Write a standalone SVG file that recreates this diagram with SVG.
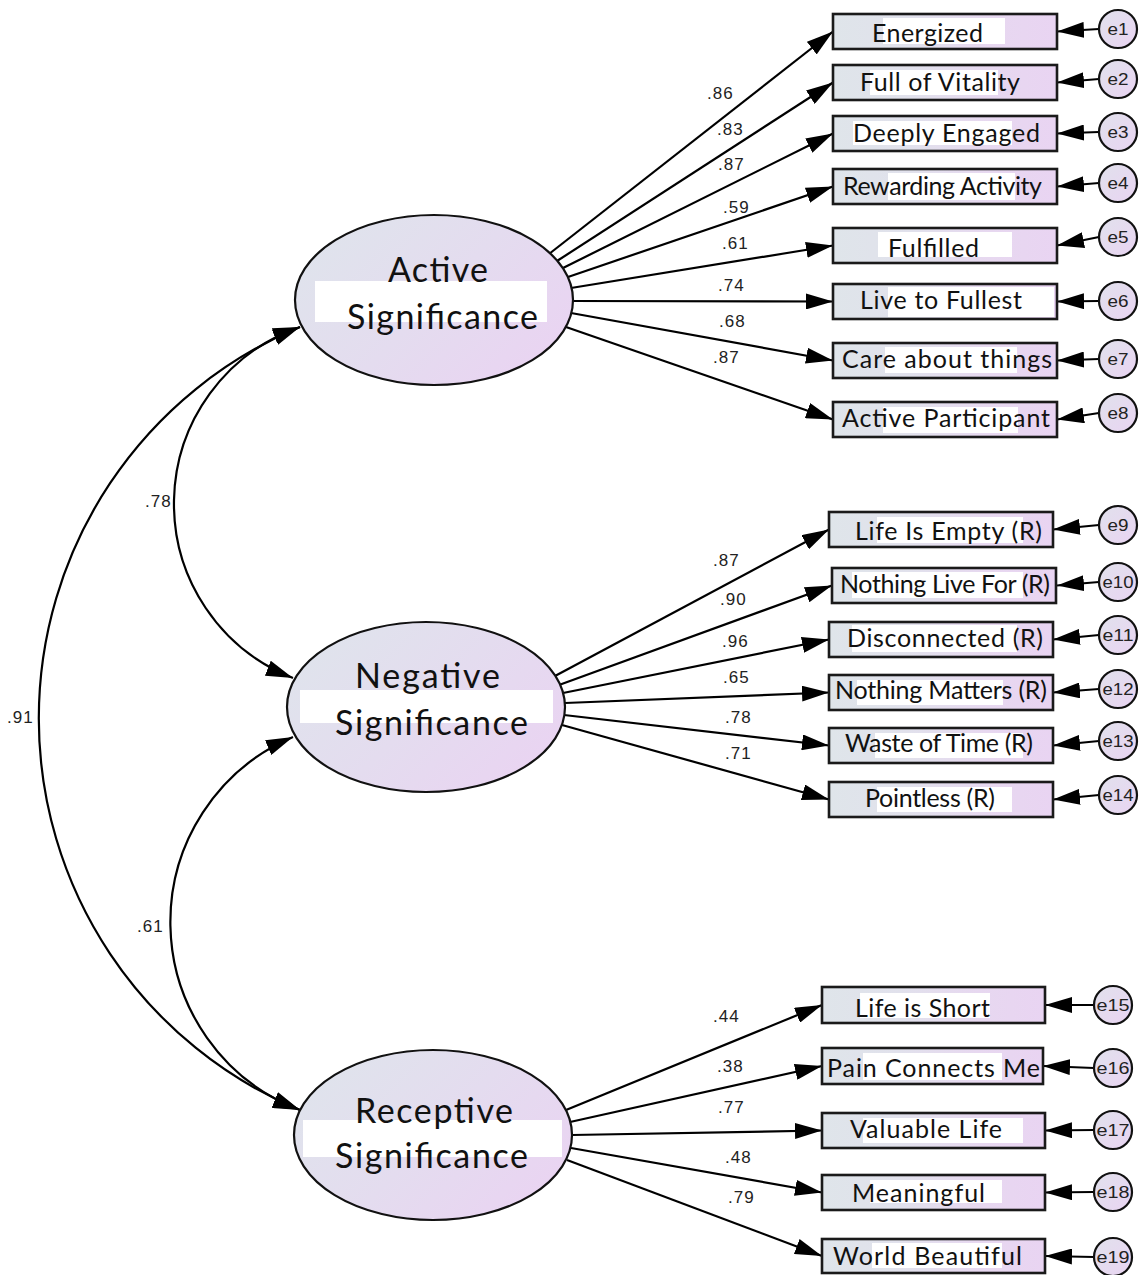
<svg xmlns="http://www.w3.org/2000/svg" width="1147" height="1275" viewBox="0 0 1147 1275">
<defs>
<linearGradient id="gBox" x1="0" y1="0" x2="1" y2="0">
<stop offset="0" stop-color="#dfe5ea"/>
<stop offset="0.35" stop-color="#e1e1ec"/>
<stop offset="0.7" stop-color="#e7d8f0"/>
<stop offset="1" stop-color="#e9d4f2"/>
</linearGradient>
<linearGradient id="gEll" x1="0" y1="0.2" x2="1" y2="0.8">
<stop offset="0" stop-color="#dfe4ec"/>
<stop offset="0.5" stop-color="#e4dcef"/>
<stop offset="1" stop-color="#ead3f2"/>
</linearGradient>
<linearGradient id="gErr" x1="0" y1="0" x2="1" y2="1">
<stop offset="0" stop-color="#e1e1ec"/>
<stop offset="1" stop-color="#e9d4f2"/>
</linearGradient>
<marker id="ah" markerUnits="userSpaceOnUse" markerWidth="27" markerHeight="16" refX="27" refY="8" orient="auto-start-reverse">
<path d="M0,0 L27,8 L0,16 Z" fill="#000"/>
</marker>
</defs>
<style>
.box{fill:url(#gBox);stroke:#1a1a1a;stroke-width:2.6}
.wb{fill:#fff}
.lbl{font-family:Lato,"Open Sans","Liberation Sans",sans-serif;font-size:25px;fill:#111}
.lat{fill:url(#gEll);stroke:#111;stroke-width:2.2}
.ltxt{font-family:Lato,"Open Sans","Liberation Sans",sans-serif;font-size:34px;fill:#111}
.err{fill:url(#gErr);stroke:#111;stroke-width:2.2}
.etxt{font-family:"Liberation Sans",Arial,sans-serif;font-size:16px;fill:#222;text-anchor:middle}
.coef{font-family:"Liberation Sans",Arial,sans-serif;font-size:17px;letter-spacing:1px;fill:#222}
.p{stroke:#000;stroke-width:2.2;fill:none;marker-end:url(#ah)}
.cov{stroke:#000;stroke-width:2.2;fill:none;marker-start:url(#ah);marker-end:url(#ah)}
</style>
<rect width="1147" height="1275" fill="#fff"/>

<g id="connectors">
<path class="cov" d="M300,327 A187,187 0 0 0 293,678"/>
<path class="cov" d="M293,737 A201,201 0 0 0 300,1110"/>
<path class="cov" d="M300,327 A424,424 0 0 0 300,1110"/>
<line class="p" x1="549" y1="254" x2="833" y2="31.5"/>
<line class="p" x1="557" y1="261" x2="833" y2="82.5"/>
<line class="p" x1="563" y1="268" x2="833" y2="133.5"/>
<line class="p" x1="568" y1="277" x2="833" y2="186.5"/>
<line class="p" x1="571" y1="288" x2="833" y2="245.5"/>
<line class="p" x1="573" y1="301" x2="833" y2="301.5"/>
<line class="p" x1="571" y1="313" x2="833" y2="360.5"/>
<line class="p" x1="566" y1="327" x2="833" y2="419.5"/>
<line class="p" x1="555" y1="676" x2="829" y2="529.5"/>
<line class="p" x1="559" y1="685" x2="832" y2="585.5"/>
<line class="p" x1="563" y1="693" x2="829" y2="639.5"/>
<line class="p" x1="565" y1="703" x2="829" y2="692.5"/>
<line class="p" x1="564" y1="715" x2="829" y2="745.5"/>
<line class="p" x1="562" y1="725" x2="829" y2="799.5"/>
<line class="p" x1="566" y1="1110" x2="822" y2="1005"/>
<line class="p" x1="570" y1="1122" x2="822" y2="1066"/>
<line class="p" x1="572" y1="1135" x2="822" y2="1130.5"/>
<line class="p" x1="571" y1="1148" x2="822" y2="1192.5"/>
<line class="p" x1="567" y1="1160" x2="822" y2="1256"/>
<line class="p" x1="1099" y1="29" x2="1057" y2="31.5"/>
<line class="p" x1="1099" y1="79" x2="1057" y2="82.5"/>
<line class="p" x1="1099" y1="132" x2="1057" y2="133.5"/>
<line class="p" x1="1099" y1="183" x2="1057" y2="186.5"/>
<line class="p" x1="1099" y1="237" x2="1057" y2="245.5"/>
<line class="p" x1="1099" y1="301" x2="1057" y2="301.5"/>
<line class="p" x1="1099" y1="359" x2="1057" y2="360.5"/>
<line class="p" x1="1099" y1="413" x2="1057" y2="419.5"/>
<line class="p" x1="1099" y1="525" x2="1053" y2="529.5"/>
<line class="p" x1="1099" y1="582" x2="1057" y2="585.5"/>
<line class="p" x1="1099" y1="635" x2="1053" y2="639.5"/>
<line class="p" x1="1099" y1="689" x2="1053" y2="692.5"/>
<line class="p" x1="1099" y1="741" x2="1053" y2="745.5"/>
<line class="p" x1="1099" y1="795" x2="1053" y2="799.5"/>
<line class="p" x1="1094" y1="1005" x2="1045" y2="1005"/>
<line class="p" x1="1094" y1="1068" x2="1043" y2="1066"/>
<line class="p" x1="1094" y1="1130" x2="1045" y2="1130.5"/>
<line class="p" x1="1094" y1="1192" x2="1045" y2="1192.5"/>
<line class="p" x1="1094" y1="1257" x2="1045" y2="1256"/>
</g>

<g id="coefficients">
<text class="coef" x="707" y="99">.86</text>
<text class="coef" x="717" y="135">.83</text>
<text class="coef" x="718" y="170">.87</text>
<text class="coef" x="723" y="213">.59</text>
<text class="coef" x="722" y="249">.61</text>
<text class="coef" x="718" y="291">.74</text>
<text class="coef" x="719" y="327">.68</text>
<text class="coef" x="713" y="363">.87</text>
<text class="coef" x="713" y="566">.87</text>
<text class="coef" x="720" y="605">.90</text>
<text class="coef" x="722" y="647">.96</text>
<text class="coef" x="723" y="683">.65</text>
<text class="coef" x="725" y="723">.78</text>
<text class="coef" x="725" y="759">.71</text>
<text class="coef" x="713" y="1022">.44</text>
<text class="coef" x="717" y="1072">.38</text>
<text class="coef" x="718" y="1113">.77</text>
<text class="coef" x="725" y="1163">.48</text>
<text class="coef" x="728" y="1203">.79</text>
<text class="coef" x="145" y="507">.78</text>
<text class="coef" x="7" y="723">.91</text>
<text class="coef" x="137" y="932">.61</text>
</g>

<g id="active">
<ellipse class="lat" cx="434" cy="300" rx="139" ry="85"/>
<rect class="wb" x="315" y="281" width="232" height="41"/>
<text class="ltxt" x="388" y="282" textLength="100" lengthAdjust="spacing">Active</text>
<text class="ltxt" x="347" y="329" textLength="191" lengthAdjust="spacing">Significance</text>
</g>
<g id="negative">
<ellipse class="lat" cx="426" cy="707" rx="139" ry="85"/>
<rect class="wb" x="300" y="690" width="253" height="33"/>
<text class="ltxt" x="355" y="688" textLength="145" lengthAdjust="spacing">Negative</text>
<text class="ltxt" x="335" y="735" textLength="193" lengthAdjust="spacing">Significance</text>
</g>
<g id="receptive">
<ellipse class="lat" cx="433" cy="1135" rx="139" ry="85"/>
<rect class="wb" x="303" y="1120" width="259" height="37"/>
<text class="ltxt" x="355" y="1123" textLength="158" lengthAdjust="spacing">Receptive</text>
<text class="ltxt" x="335" y="1168" textLength="193" lengthAdjust="spacing">Significance</text>
</g>

<g id="v1"><rect class="box" x="833" y="14" width="224" height="35"/><rect class="wb" x="883" y="18" width="122" height="26"/><text class="lbl" x="872" y="42" textLength="111" lengthAdjust="spacing">Energized</text></g>
<g id="v2"><rect class="box" x="833" y="65" width="224" height="35"/><rect class="wb" x="870" y="70" width="128" height="25"/><text class="lbl" x="860" y="91" textLength="160" lengthAdjust="spacing">Full of Vitality</text></g>
<g id="v3"><rect class="box" x="833" y="116" width="224" height="35"/><rect class="wb" x="853" y="121" width="159" height="24"/><text class="lbl" x="853" y="142" textLength="187" lengthAdjust="spacing">Deeply Engaged</text></g>
<g id="v4"><rect class="box" x="833" y="169" width="224" height="35"/><rect class="wb" x="888" y="173" width="127" height="27"/><text class="lbl" x="843" y="195" textLength="199" lengthAdjust="spacing">Rewarding Activity</text></g>
<g id="v5"><rect class="box" x="833" y="228" width="224" height="35"/><rect class="wb" x="878" y="232" width="134" height="25"/><text class="lbl" x="888" y="257" textLength="91" lengthAdjust="spacing">Fulfilled</text></g>
<g id="v6"><rect class="box" x="833" y="284" width="224" height="35"/><rect class="wb" x="888" y="287" width="166" height="30"/><text class="lbl" x="860" y="309" textLength="162" lengthAdjust="spacing">Live to Fullest</text></g>
<g id="v7"><rect class="box" x="833" y="343" width="224" height="35"/><rect class="wb" x="885" y="347" width="132" height="26"/><text class="lbl" x="842" y="368" textLength="210" lengthAdjust="spacing">Care about things</text></g>
<g id="v8"><rect class="box" x="833" y="402" width="224" height="35"/><rect class="wb" x="883" y="407" width="135" height="26"/><text class="lbl" x="842" y="427" textLength="208" lengthAdjust="spacing">Active Participant</text></g>

<g id="v9"><rect class="box" x="829" y="512" width="224" height="35"/><rect class="wb" x="877" y="517" width="146" height="26"/><text class="lbl" x="855" y="540" textLength="187" lengthAdjust="spacing">Life Is Empty (R)</text></g>
<g id="v10"><rect class="box" x="832" y="568" width="224" height="35"/><rect class="wb" x="852" y="572" width="171" height="26"/><text class="lbl" x="840" y="593" textLength="210" lengthAdjust="spacing">Nothing Live For (R)</text></g>
<g id="v11"><rect class="box" x="829" y="622" width="224" height="35"/><rect class="wb" x="852" y="625" width="165" height="27"/><text class="lbl" x="847" y="647" textLength="196" lengthAdjust="spacing">Disconnected (R)</text></g>
<g id="v12"><rect class="box" x="829" y="675" width="224" height="35"/><rect class="wb" x="857" y="680" width="146" height="25"/><text class="lbl" x="835" y="699" textLength="212" lengthAdjust="spacing">Nothing Matters (R)</text></g>
<g id="v13"><rect class="box" x="829" y="728" width="224" height="35"/><rect class="wb" x="875" y="733" width="148" height="25"/><text class="lbl" x="845" y="752" textLength="188" lengthAdjust="spacing">Waste of Time (R)</text></g>
<g id="v14"><rect class="box" x="829" y="782" width="224" height="35"/><rect class="wb" x="877" y="787" width="135" height="25"/><text class="lbl" x="865" y="807" textLength="130" lengthAdjust="spacing">Pointless (R)</text></g>

<g id="v15"><rect class="box" x="822" y="987" width="223" height="36"/><rect class="wb" x="860" y="993" width="130" height="25"/><text class="lbl" x="855" y="1017" textLength="135" lengthAdjust="spacing">Life is Short</text></g>
<g id="v16"><rect class="box" x="822" y="1048" width="221" height="36"/><rect class="wb" x="863" y="1053" width="139" height="27"/><text class="lbl" x="827" y="1077" textLength="213" lengthAdjust="spacing">Pain Connects Me</text></g>
<g id="v17"><rect class="box" x="822" y="1113" width="223" height="35"/><rect class="wb" x="863" y="1118" width="160" height="25"/><text class="lbl" x="850" y="1138" textLength="152" lengthAdjust="spacing">Valuable Life</text></g>
<g id="v18"><rect class="box" x="822" y="1175" width="223" height="35"/><rect class="wb" x="870" y="1180" width="132" height="23"/><text class="lbl" x="852" y="1202" textLength="133" lengthAdjust="spacing">Meaningful</text></g>
<g id="v19"><rect class="box" x="822" y="1239" width="223" height="34"/><rect class="wb" x="872" y="1243" width="130" height="25"/><text class="lbl" x="833" y="1265" textLength="189" lengthAdjust="spacing">World Beautiful</text></g>

<g id="e1"><circle class="err" cx="1118" cy="29" r="19"/><text class="etxt" x="1118" y="35" textLength="21" lengthAdjust="spacingAndGlyphs">e1</text></g>
<g id="e2"><circle class="err" cx="1118" cy="79" r="19"/><text class="etxt" x="1118" y="85" textLength="21" lengthAdjust="spacingAndGlyphs">e2</text></g>
<g id="e3"><circle class="err" cx="1118" cy="132" r="19"/><text class="etxt" x="1118" y="138" textLength="21" lengthAdjust="spacingAndGlyphs">e3</text></g>
<g id="e4"><circle class="err" cx="1118" cy="183" r="19"/><text class="etxt" x="1118" y="189" textLength="21" lengthAdjust="spacingAndGlyphs">e4</text></g>
<g id="e5"><circle class="err" cx="1118" cy="237" r="19"/><text class="etxt" x="1118" y="243" textLength="21" lengthAdjust="spacingAndGlyphs">e5</text></g>
<g id="e6"><circle class="err" cx="1118" cy="301" r="19"/><text class="etxt" x="1118" y="307" textLength="21" lengthAdjust="spacingAndGlyphs">e6</text></g>
<g id="e7"><circle class="err" cx="1118" cy="359" r="19"/><text class="etxt" x="1118" y="365" textLength="21" lengthAdjust="spacingAndGlyphs">e7</text></g>
<g id="e8"><circle class="err" cx="1118" cy="413" r="19"/><text class="etxt" x="1118" y="419" textLength="21" lengthAdjust="spacingAndGlyphs">e8</text></g>
<g id="e9"><circle class="err" cx="1118" cy="525" r="19"/><text class="etxt" x="1118" y="531" textLength="21" lengthAdjust="spacingAndGlyphs">e9</text></g>
<g id="e10"><circle class="err" cx="1118" cy="582" r="19"/><text class="etxt" x="1118" y="588" textLength="31" lengthAdjust="spacingAndGlyphs">e10</text></g>
<g id="e11"><circle class="err" cx="1118" cy="635" r="19"/><text class="etxt" x="1118" y="641" textLength="31" lengthAdjust="spacingAndGlyphs">e11</text></g>
<g id="e12"><circle class="err" cx="1118" cy="689" r="19"/><text class="etxt" x="1118" y="695" textLength="31" lengthAdjust="spacingAndGlyphs">e12</text></g>
<g id="e13"><circle class="err" cx="1118" cy="741" r="19"/><text class="etxt" x="1118" y="747" textLength="31" lengthAdjust="spacingAndGlyphs">e13</text></g>
<g id="e14"><circle class="err" cx="1118" cy="795" r="19"/><text class="etxt" x="1118" y="801" textLength="31" lengthAdjust="spacingAndGlyphs">e14</text></g>
<g id="e15"><circle class="err" cx="1113" cy="1005" r="19"/><text class="etxt" x="1113" y="1011" textLength="33" lengthAdjust="spacingAndGlyphs">e15</text></g>
<g id="e16"><circle class="err" cx="1113" cy="1068" r="19"/><text class="etxt" x="1113" y="1074" textLength="33" lengthAdjust="spacingAndGlyphs">e16</text></g>
<g id="e17"><circle class="err" cx="1113" cy="1130" r="19"/><text class="etxt" x="1113" y="1136" textLength="33" lengthAdjust="spacingAndGlyphs">e17</text></g>
<g id="e18"><circle class="err" cx="1113" cy="1192" r="19"/><text class="etxt" x="1113" y="1198" textLength="33" lengthAdjust="spacingAndGlyphs">e18</text></g>
<g id="e19"><circle class="err" cx="1113" cy="1257" r="19"/><text class="etxt" x="1113" y="1263" textLength="33" lengthAdjust="spacingAndGlyphs">e19</text></g>
</svg>
